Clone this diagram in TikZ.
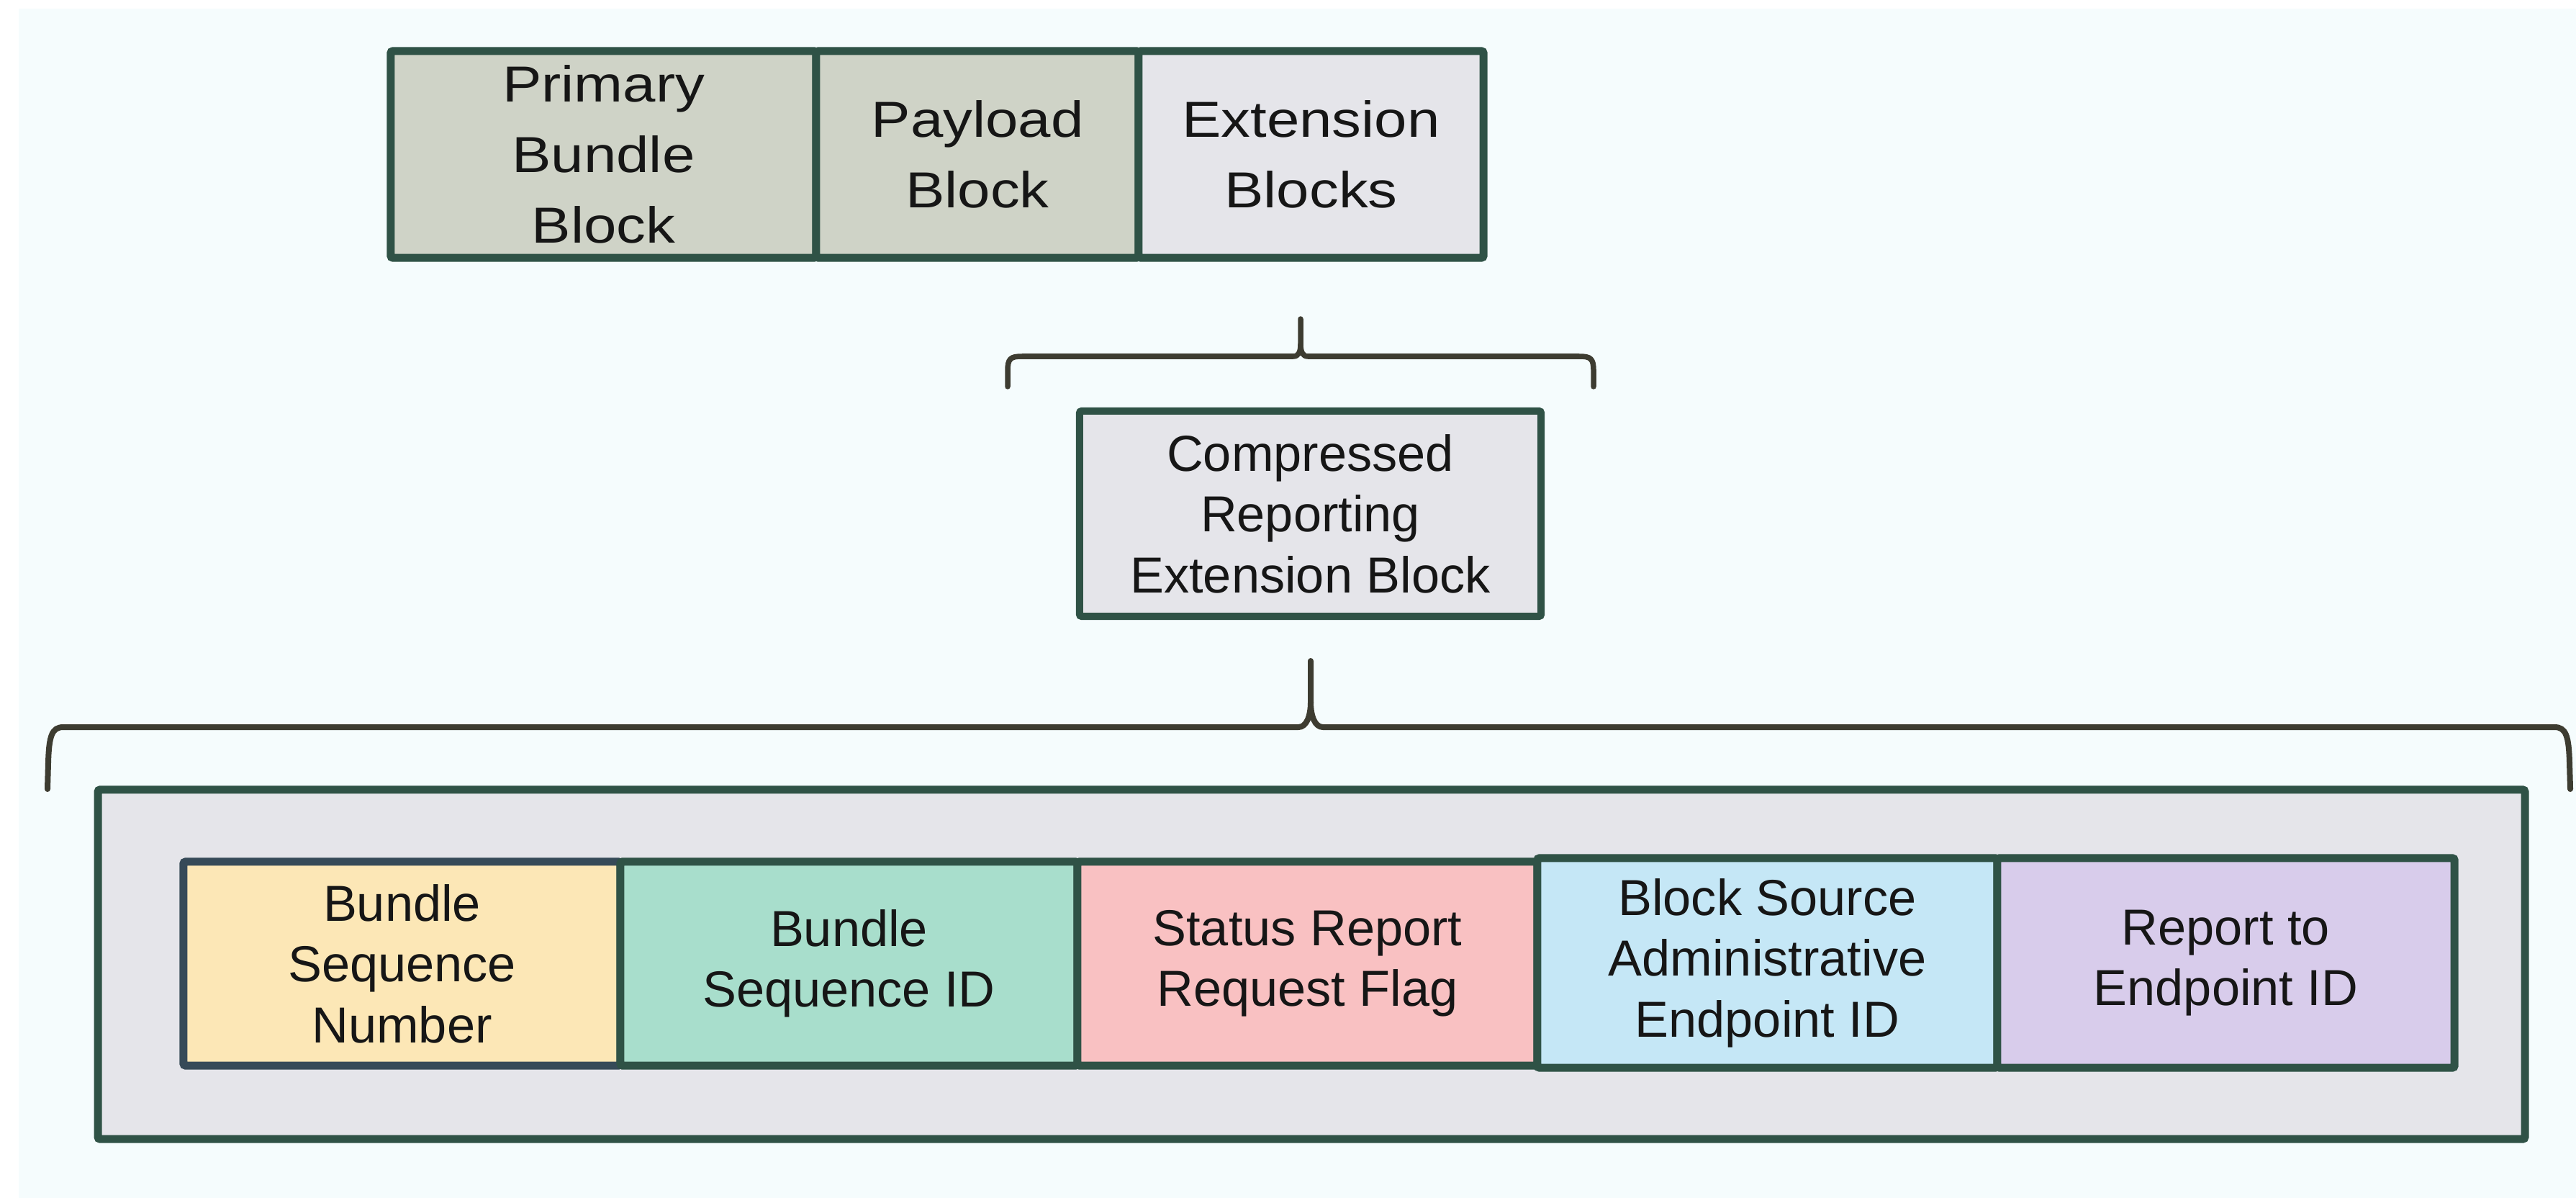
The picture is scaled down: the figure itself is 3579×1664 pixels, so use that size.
\documentclass[tikz,border=0pt]{standalone}
\usepackage{fontspec}
\setmainfont{Liberation Sans}
\newfontfamily\widefont[FakeStretch=1.16]{Liberation Sans}
\definecolor{bgcol}{HTML}{F5FCFD}
\definecolor{bordergreen}{HTML}{2F5246}
\definecolor{borderslate}{HTML}{364A58}
\definecolor{bracecol}{HTML}{3D3C31}
\definecolor{textblack}{HTML}{161616}
\definecolor{topgray}{HTML}{CFD3C7}
\definecolor{lightgray}{HTML}{E5E5EA}
\definecolor{fyellow}{HTML}{FCE7B6}
\definecolor{fgreen}{HTML}{A8DECC}
\definecolor{fpink}{HTML}{F9C1C2}
\definecolor{fblue}{HTML}{C5E7F6}
\definecolor{fpurple}{HTML}{D8CCEB}
\begin{document}
\begin{tikzpicture}[x=0.01cm,y=-0.01cm,
  box/.style={draw=bordergreen, line width=0.11cm, rounded corners=0.03cm,
    inner sep=0pt, outer sep=0pt, align=center, text=textblack,
    font=\fontsize{20}{24}\selectfont},
  topbox/.style={box, font=\widefont\fontsize{20}{27.8}\selectfont},
  brace/.style={draw=bracecol, line width=0.075cm, line cap=round, line join=round}]
\useasboundingbox[fill=white] (0,0) rectangle (3579,1664);
\fill[bgcol] (26,12) rectangle (3579,1664);

% top row
\node[topbox, fill=topgray, minimum width=5.91cm, minimum height=2.87cm] (primary) at (838.5,214.5) {Primary\\Bundle\\Block};
\node[topbox, fill=topgray, minimum width=4.48cm, minimum height=2.87cm] (payload) at (1358,214.5) {Payload\\Block};
\node[topbox, fill=lightgray, minimum width=4.79cm, minimum height=2.87cm] (extension) at (1821.5,214.5) {Extension\\Blocks};

% upper brace
\coordinate (ub-l) at (1400,537);
\coordinate (ub-r) at (2214,537);
\coordinate (ub-tip) at (1807,443);
\draw[brace] (ub-l) -- (1400,515) .. controls (1400,498) and (1404,495) .. (1420,495) -- (1797,495) .. controls (1804,495) and (1807,489) .. (1807,478) -- (ub-tip);
\draw[brace] (ub-r) -- (2214,515) .. controls (2214,498) and (2210,495) .. (2194,495) -- (1817,495) .. controls (1810,495) and (1807,489) .. (1807,478);

% compressed reporting block
\node[box, fill=lightgray, line width=0.10cm, minimum width=6.41cm, minimum height=2.85cm] (crb) at (1820.5,713.5) {Compressed\\Reporting\\Extension Block};

% lower brace
\coordinate (lb-l) at (66,1096);
\coordinate (lb-r) at (3571,1096);
\coordinate (lb-tip) at (1821,918);
\draw[brace, line width=0.08cm] (lb-l) -- (67,1060) .. controls (68,1022) and (72,1010) .. (88,1010) -- (1804,1010) .. controls (1815,1010) and (1821,995) .. (1821,975) -- (lb-tip);
\draw[brace, line width=0.08cm] (lb-r) -- (3570,1060) .. controls (3569,1022) and (3565,1010) .. (3549,1010) -- (1838,1010) .. controls (1827,1010) and (1821,995) .. (1821,975);

% container
\node[box, fill=lightgray, minimum width=33.70cm, minimum height=4.85cm] (container) at (1822,1339.5) {};

% fields
\node[box, draw=borderslate, fill=fyellow, minimum width=6.07cm, minimum height=2.83cm] (bsn) at (558.5,1338.5) {Bundle\\Sequence\\Number};
\node[box, fill=fgreen, minimum width=6.35cm, minimum height=2.83cm] (bsid) at (1179.5,1338.5) {Bundle\\Sequence ID};
\node[box, fill=fpink, minimum width=6.39cm, minimum height=2.83cm] (srrf) at (1816.5,1338.5) {Status Report\\Request Flag};
\node[box, fill=fblue, minimum width=6.39cm, minimum height=2.91cm] (bsaeid) at (2455.5,1337.5) {Block Source\\Administrative\\Endpoint ID};
\node[box, fill=fpurple, minimum width=6.35cm, minimum height=2.91cm] (rteid) at (3092.5,1337.5) {Report to\\Endpoint ID};
\end{tikzpicture}
\end{document}
